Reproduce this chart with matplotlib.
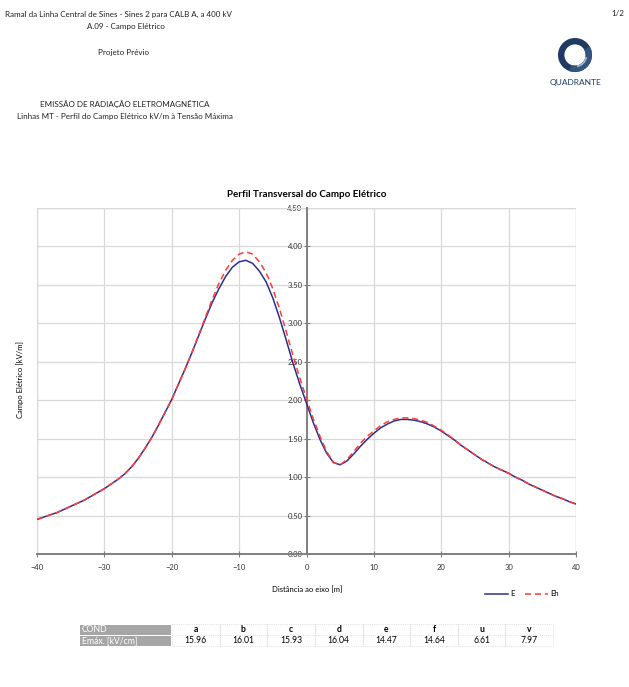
import matplotlib.pyplot as plt
import numpy as np
from matplotlib.patches import Rectangle, Wedge

plt.rcParams["font.family"] = ["Lato", "DejaVu Sans"]

# distance to the line axis [m]
dist = list(range(-40, 41))

# electric field E [kV/m], every 1 m
field_e = [
    0.45, 0.48, 0.51, 0.54, 0.58, 0.62, 0.66, 0.70, 0.75, 0.80,  # -40..-31
    0.85, 0.91, 0.97, 1.04, 1.13, 1.24, 1.37, 1.51, 1.67, 1.84,  # -30..-21
    2.01, 2.21, 2.41, 2.62, 2.84, 3.06, 3.27, 3.45, 3.61, 3.73,  # -20..-11
    3.80, 3.82, 3.78, 3.68, 3.54, 3.33, 3.07, 2.78, 2.48, 2.21,  # -10..-1
    1.96, 1.71, 1.49, 1.31, 1.19, 1.16, 1.21, 1.30, 1.40, 1.49,  # 0..9
    1.57, 1.64, 1.69, 1.73, 1.75, 1.75, 1.74, 1.72, 1.69, 1.65,  # 10..19
    1.60, 1.54, 1.48, 1.41, 1.35, 1.29, 1.23, 1.18, 1.13, 1.09,  # 20..29
    1.05, 1.00, 0.96, 0.91, 0.87, 0.83, 0.79, 0.75, 0.72, 0.68,  # 30..39
    0.65,                                                        # 40
]

# Eh [kV/m]
field_eh = [
    0.45, 0.48, 0.51, 0.54, 0.58, 0.62, 0.66, 0.70, 0.75, 0.80,
    0.85, 0.91, 0.97, 1.04, 1.13, 1.24, 1.37, 1.51, 1.67, 1.84,
    2.01, 2.21, 2.41, 2.62, 2.85, 3.08, 3.31, 3.52, 3.69, 3.82,
    3.90, 3.93, 3.90, 3.80, 3.66, 3.45, 3.19, 2.89, 2.58, 2.29,
    2.02, 1.76, 1.53, 1.33, 1.19, 1.16, 1.23, 1.33, 1.44, 1.53,
    1.60, 1.67, 1.72, 1.75, 1.77, 1.77, 1.76, 1.74, 1.71, 1.66,
    1.61, 1.55, 1.48, 1.41, 1.35, 1.29, 1.23, 1.18, 1.13, 1.09,
    1.05, 1.00, 0.96, 0.91, 0.87, 0.83, 0.79, 0.75, 0.72, 0.68,
    0.65,
]

x_ticks = [-40, -30, -20, -10, 0, 10, 20, 30, 40]
y_ticks = [0.0, 0.5, 1.0, 1.5, 2.0, 2.5, 3.0, 3.5, 4.0, 4.5]

conductors = ["a", "b", "c", "d", "e", "f", "u", "v"]
e_max = ["15.96", "16.01", "15.93", "16.04", "14.47", "14.64", "6.61", "7.97"]

W, H = 629, 687
fig = plt.figure(figsize=(W / 100, H / 100), dpi=100)


def fx(px):
    return px / W


def fy(py):
    return 1 - py / H


# header
hdr = dict(fontsize=5.8, color="#222222")
fig.text(fx(5), fy(14), "Ramal da Linha Central de Sines - Sines 2 para CALB A, a 400 kV", ha="left", va="center", **hdr)
fig.text(fx(126), fy(27), "A.09 - Campo Elétrico", ha="center", va="center", **hdr)
fig.text(fx(124), fy(53), "Projeto Prévio", ha="center", va="center", **hdr)
fig.text(fx(125), fy(104), "EMISSÃO DE RADIAÇÃO ELETROMAGNÉTICA", ha="center", va="center", **hdr)
fig.text(fx(125), fy(117), "Linhas MT - Perfil do Campo Elétrico kV/m à Tensão Máxima", ha="center", va="center", **hdr)
fig.text(fx(618), fy(14), "1/2", ha="center", va="center", **hdr)

# logo: a shaded ring
lax = fig.add_axes([fx(555), fy(75), fx(40), 40 / H])
lax.set_xlim(-1, 1)
lax.set_ylim(-1, 1)
lax.set_aspect("equal")
lax.axis("off")
lax.add_patch(Wedge((0, 0), 0.85, 0, 360, width=0.32, facecolor="#1f3b63", edgecolor="none"))
lax.add_patch(Wedge((0, 0), 0.85, 250, 30, width=0.32, facecolor="#34557f", edgecolor="none"))
lax.add_patch(Wedge((0, 0), 0.62, 280, 350, width=0.09, facecolor="#a9b8cb", edgecolor="none"))
fig.text(fx(575), fy(83), "QUADRANTE", ha="center", va="center", fontsize=6, color="#1f3b63")

# chart
ax = fig.add_axes([fx(37), fy(554), fx(576 - 37), (554 - 208) / H])
ax.plot(dist, field_e, color="#2b2f8f", lw=1.1, label="E", zorder=3)
ax.plot(dist, field_eh, color="#ff3b3b", lw=1.1, ls=(0, (4, 2.5)), label="Eh", zorder=4)

ax.set_xlim(-40, 40)
ax.set_ylim(0, 4.5)
ax.set_xticks(x_ticks)
ax.set_yticks(y_ticks)
ax.set_yticklabels([f"{v:.2f}" for v in y_ticks])
ax.grid(True, color="#d9d9d9", lw=0.9)
ax.set_axisbelow(True)

for s in ["top", "right"]:
    ax.spines[s].set_visible(False)
ax.spines["left"].set_position(("data", 0))
ax.spines["left"].set_color("#7f7f7f")
ax.spines["left"].set_linewidth(1.4)
ax.spines["bottom"].set_color("#7f7f7f")
ax.spines["bottom"].set_linewidth(1.4)
ax.add_patch(Rectangle((0, 0), 1, 1, transform=ax.transAxes, fill=False,
                       edgecolor="#d9d9d9", lw=1.0, zorder=1))
ax.tick_params(axis="both", direction="inout", length=4, width=0.8,
               color="#7f7f7f", labelsize=5.5, labelcolor="#333333")
ax.tick_params(axis="y", pad=1)
ax.tick_params(axis="x", pad=5)

ax.set_title("Perfil Transversal do Campo Elétrico", fontsize=7, fontweight="bold", pad=8)
fig.text(fx(20), fy(380), "Campo Elétrico [kV/m]", rotation=90, ha="center", va="center", fontsize=5.5)
fig.text(fx(307), fy(590), "Distância ao eixo [m]", ha="center", va="center", fontsize=5.5)

ax.legend(loc="center", bbox_to_anchor=(fx(522), fy(594)), bbox_transform=fig.transFigure,
          ncol=2, frameon=False, fontsize=5.5, handlelength=3, handletextpad=0.3,
          columnspacing=1.4)

# table
col0_l, col0_r = 80, 172
col_w = (553 - 172) / len(conductors)
rows_y = [(624, 635), (635, 646)]
for (top, bot), label in zip(rows_y, ["COND", "Emáx. [kV/cm]"]):
    fig.patches.append(Rectangle((fx(col0_l), fy(bot)), fx(col0_r - col0_l - 1), (bot - top - 1) / H,
                                 transform=fig.transFigure, facecolor="#a6a6a6", edgecolor="none"))
    fig.text(fx(col0_l + 2), fy((top + bot) / 2), label, ha="left", va="center", fontsize=6.2, color="white")
for i, (c, v) in enumerate(zip(conductors, e_max)):
    cx = col0_r + col_w * (i + 0.5)
    fig.text(fx(cx), fy(629.5), c, ha="center", va="center", fontsize=6.2, fontweight="bold")
    fig.text(fx(cx), fy(640.5), v, ha="center", va="center", fontsize=6.2)
    left = col0_r + col_w * i
    fig.patches.append(Rectangle((fx(left), fy(646)), fx(col_w), 22 / H, transform=fig.transFigure,
                                 fill=False, edgecolor="#c8c8c8", lw=0.5, ls=":"))
fig.add_artist(plt.Line2D([fx(172), fx(553)], [fy(635), fy(635)], color="#c8c8c8", lw=0.5, ls=":"))

fig.savefig("out.png", dpi=100)
